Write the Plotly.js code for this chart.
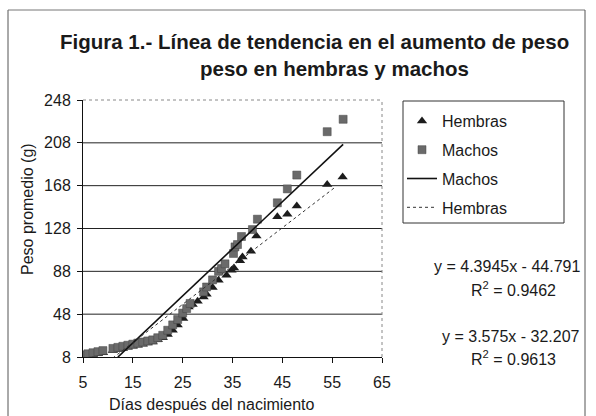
<!DOCTYPE html>
<html>
<head>
<meta charset="utf-8">
<script src="https://cdn.plot.ly/plotly-3.0.1.min.js"></script>
<style>html,body{margin:0;padding:0;background:#fff;}#chart{width:596px;height:416px;}</style>
</head>
<body>
<div id="chart"></div>
<script>
// ---- data ----
var hembrasX = [5,6,7,8,9,11,12,13,14,15,16,17,18,19,20,21,22,23,24,25.1,26.2,27,28,29.2,29.8,31,32.2,33.8,34.8,35.3,36.5,37,38.7,39.8,44,46,47.9,54,57.1];
var hembrasY = [9,9.5,10,11,12,14,15,16,17,18,19,20,21,22,24,26,29,33,38,44,54.7,57,60,64,66.6,73,79.7,84.4,89,91,98,101.5,106.8,121,139,141.4,149,169,176];
var machosX = [5,6,7,8,9,11,12,13,14,15,16,17,18,19,20,21,22,23,24,25,25.8,26.5,29.2,29.8,31,32.2,32.8,33.5,35.2,35.5,36,36.8,39,40,44,46,47.9,54,57.2];
var machosY = [10,11,12,13,14,16,17,18,19,20,21,22,23,24,26,28.3,33,38,43,49,53.2,58,68.8,73.4,80,88,90.6,95,104.7,110.8,113,120.5,127,136.7,152,165,177.9,218.4,230];
// trend lines (Excel linear fits as printed on the chart)
var machosFit = {slope: 4.3945, intercept: -44.791, r2: 0.9462};
var hembrasFit = {slope: 3.575, intercept: -32.207, r2: 0.9613};
var machosFitX = [12, 57.2];
var hembrasFitX = [10, 55.5];
var xTickVals = [5,15,25,35,45,55,65];
var yTickVals = [8,48,88,128,168,208,248];
var titleLine1 = "Figura 1.- Línea de tendencia en el aumento de peso";
var titleLine2 = "peso en hembras y machos";
var xTitle = "Días después del nacimiento";
var yTitle = "Peso promedio (g)";

// ---- layout helpers ----
var W = 596, H = 416, M = {l:83, r:214, t:100, b:59};
var PW = W - M.l - M.r, PH = H - M.t - M.b;
function px(x){ return (x - M.l) / PW; }
function py(y){ return (H - M.b - y) / PH; }
function fitY(f, xs){ return xs.map(function(x){ return f.slope * x + f.intercept; }); }
function fmtEq(f){ return "y = " + f.slope + "x - " + Math.abs(f.intercept); }

var FONT = "Liberation Sans, Arial, sans-serif";
var TXT = "#1a1a1a";

var traces = [
  {x: hembrasX, y: hembrasY, name: "Hembras", type: "scatter", mode: "markers", legendgroup: "a",
   marker: {symbol: "triangle-up", size: 9, color: "#1c1c1c"}},
  {x: machosX, y: machosY, name: "Machos", type: "scatter", mode: "markers", legendgroup: "b",
   marker: {symbol: "square", size: 8, color: "#6a6a6a", line: {width: 0.5, color: "#444"}}},
  {x: machosFitX, y: fitY(machosFit, machosFitX), name: "Machos", type: "scatter", mode: "lines", legendgroup: "c",
   line: {color: "#111", width: 1.6}},
  {x: hembrasFitX, y: fitY(hembrasFit, hembrasFitX), name: "Hembras", type: "scatter", mode: "lines", legendgroup: "d",
   line: {color: "#333", width: 1, dash: "dot"}}
];

var shapes = [];
yTickVals.slice(1, -1).forEach(function(v){
  shapes.push({type: "line", xref: "paper", yref: "y", x0: 0, x1: 1, y0: v, y1: v, layer: "below",
               line: {color: "#222", width: 1}});
});
shapes.push({type: "line", xref: "paper", yref: "paper", x0: 0, x1: 1, y0: 1, y1: 1, line: {color: "#888", width: 1, dash: "dot"}});
shapes.push({type: "line", xref: "paper", yref: "paper", x0: 1, x1: 1, y0: 0, y1: 1, line: {color: "#888", width: 1, dash: "dot"}});
// legend box
shapes.push({type: "rect", xref: "paper", yref: "paper", x0: px(403), x1: px(564), y0: py(101), y1: py(223),
             line: {color: "#333", width: 1}});
// chart area border (cropped scan)
shapes.push({type: "line", xref: "paper", yref: "paper", x0: px(8), x1: px(8), y0: py(10), y1: py(416), line: {color: "#555", width: 1}});
shapes.push({type: "line", xref: "paper", yref: "paper", x0: px(8), x1: px(585), y0: py(10), y1: py(10), line: {color: "#777", width: 1}});
shapes.push({type: "line", xref: "paper", yref: "paper", x0: px(585), x1: px(585), y0: py(10), y1: py(416), line: {color: "#555", width: 1}});

var annotations = [
  {text: titleLine1, xref: "paper", yref: "paper", x: px(58), y: py(42), xanchor: "left", yanchor: "middle",
   showarrow: false, font: {family: FONT, size: 20.5, color: TXT, weight: "bold"}},
  {text: titleLine2, xref: "paper", yref: "paper", x: px(334), y: py(68), xanchor: "center", yanchor: "middle",
   showarrow: false, font: {family: FONT, size: 20.5, color: TXT, weight: "bold"}},
  {text: xTitle, xref: "paper", yref: "paper", x: px(212), y: py(404), xanchor: "center", yanchor: "middle",
   showarrow: false, font: {family: FONT, size: 16, color: TXT}},
  {text: yTitle, xref: "paper", yref: "paper", x: px(27), y: py(209), xanchor: "center", yanchor: "middle", textangle: -90,
   showarrow: false, font: {family: FONT, size: 16, color: TXT}},
  {text: fmtEq(machosFit), xref: "paper", yref: "paper", x: px(582), y: py(266), xanchor: "right", yanchor: "middle",
   showarrow: false, font: {family: FONT, size: 16, color: TXT}},
  {text: "R<sup>2</sup> = " + machosFit.r2, xref: "paper", yref: "paper", x: px(513), y: py(289), xanchor: "center", yanchor: "middle",
   showarrow: false, font: {family: FONT, size: 16, color: TXT}},
  {text: fmtEq(hembrasFit), xref: "paper", yref: "paper", x: px(582), y: py(336), xanchor: "right", yanchor: "middle",
   showarrow: false, font: {family: FONT, size: 16, color: TXT}},
  {text: "R<sup>2</sup> = " + hembrasFit.r2, xref: "paper", yref: "paper", x: px(513), y: py(358), xanchor: "center", yanchor: "middle",
   showarrow: false, font: {family: FONT, size: 16, color: TXT}}
];

var layout = {
  width: W, height: H, margin: M,
  paper_bgcolor: "#fff", plot_bgcolor: "#fff",
  font: {family: FONT, size: 16, color: TXT},
  showlegend: true,
  legend: {x: px(402), y: py(104), xanchor: "left", yanchor: "top", bgcolor: "rgba(0,0,0,0)", borderwidth: 0,
           traceorder: "grouped", tracegroupgap: 5, font: {family: FONT, size: 16, color: TXT}},
  xaxis: {range: [5, 65], tickvals: xTickVals, ticktext: xTickVals.map(String), showgrid: false, zeroline: false,
          showline: true, linecolor: "#111", linewidth: 1, ticks: "outside", ticklen: 5, tickcolor: "#111",
          ticklabelstandoff: 6, fixedrange: true},
  yaxis: {range: [8, 248], tickvals: yTickVals, ticktext: yTickVals.map(String), showgrid: false, zeroline: false,
          showline: true, linecolor: "#111", linewidth: 1, ticks: "outside", ticklen: 5, tickcolor: "#111",
          ticklabelstandoff: 3, fixedrange: true},
  shapes: shapes,
  annotations: annotations
};

Plotly.newPlot("chart", traces, layout, {displayModeBar: false, staticPlot: true});
</script>
</body>
</html>
